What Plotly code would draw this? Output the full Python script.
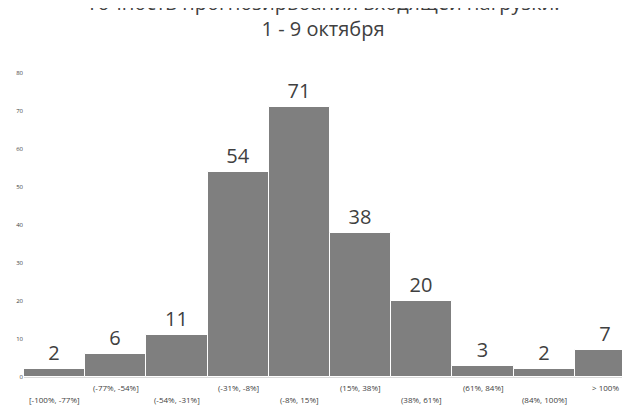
import plotly.graph_objects as go

# bins of forecast error and counts
bins = ['[-100%, -77%]', '(-77%, -54%]', '(-54%, -31%]', '(-31%, -8%]', '(-8%, 15%]',
        '(15%, 38%]', '(38%, 61%]', '(61%, 84%]', '(84%, 100%]', '> 100%']
counts = [2, 6, 11, 54, 71, 38, 20, 3, 2, 7]
y_ticks = [0, 10, 20, 30, 40, 50, 60, 70, 80]

fig = go.Figure(go.Bar(
    x=bins, y=counts,
    marker=dict(color='#7f7f7f', line=dict(color='white', width=1)),
    width=1.0,
    text=counts, textposition='outside',
    textfont=dict(size=20, color='#404040', family='Open Sans'),
    cliponaxis=False,
))

# alternating two-row category labels
for i, b in enumerate(bins):
    fig.add_annotation(x=b, y=0, xref='x', yref='y', text=b, showarrow=False,
                       yanchor='top', yshift=-15 if i % 2 == 0 else -3,
                       font=dict(size=8, color='#404040', family='Open Sans'))

fig.update_layout(
    title=dict(text='Точность прогнозирвоания входящей нагрузки.<br>1 - 9 октября',
               x=0.5, y=0.995, yanchor='top',
               font=dict(size=20, color='#404040', family='Open Sans')),
    width=630, height=408,
    margin=dict(l=16, r=2, t=65, b=39, autoexpand=False),
    plot_bgcolor='white', paper_bgcolor='white',
    bargap=0, showlegend=False,
    xaxis=dict(showticklabels=False, showgrid=False, showline=True,
               linecolor='#d9d9d9', ticks=''),
    yaxis=dict(range=[0, 80], tickvals=y_ticks, showgrid=False, zeroline=False,
               tickfont=dict(size=6, color='#404040'), showline=False, automargin=False),
)

fig.write_html("out.html")
